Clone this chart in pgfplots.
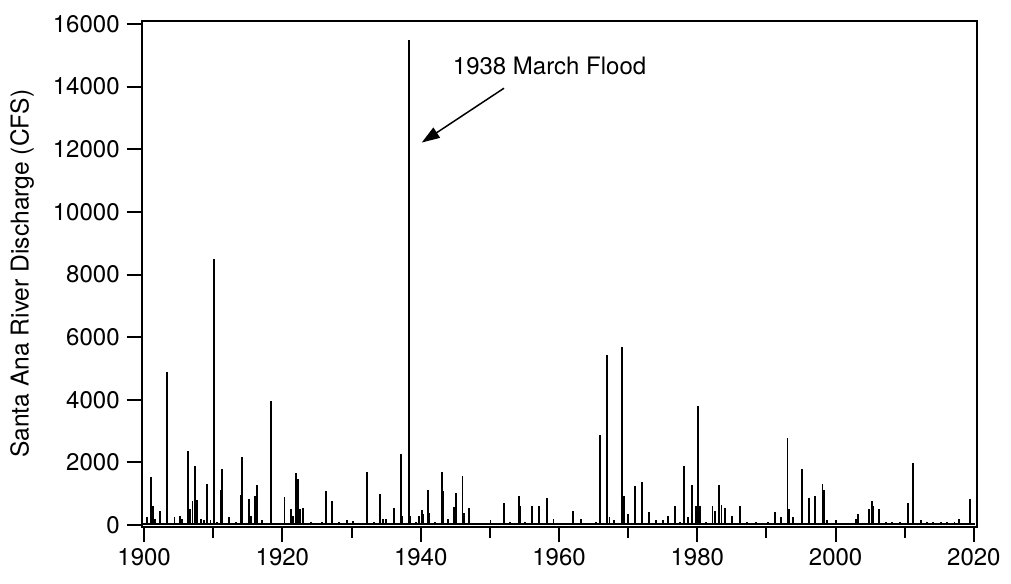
\documentclass[border=0pt]{standalone}
\usepackage{fontspec}
\setmainfont{TeX Gyre Heros}
\usepackage{pgfplots}
\pgfplotsset{compat=1.18}
\usetikzlibrary{calc,arrows.meta}

% peak discharge per event (year, cfs)
\pgfplotstableread{
year   q
1900.4 250
1901.0 1540
1901.3 600
1901.6 180
1902.3 440
1903.3 4890
1904.4 250
1905.2 300
1905.5 200
1906.3 2380
1906.6 500
1907.0 760
1907.3 1880
1907.6 800
1908.2 200
1908.6 150
1909.15 1320
1909.6 150
1910.07 8500
1910.5 100
1911.1 1110
1911.3 1800
1912.3 250
1913.3 100
1914.0 975
1914.2 2170
1915.2 840
1915.4 300
1916.1 920
1916.3 1270
1917.0 150
1918.3 3950
1920.3 910
1921.25 500
1921.5 300
1922.0 1670
1922.2 1480
1922.5 500
1923.0 560
1924.2 100
1925.1 80
1925.7 100
1926.35 1090
1927.2 760
1928.2 100
1929.3 160
1930.2 130
1931.2 80
1932.2 1710
1933.2 100
1934.1 1000
1934.6 200
1935.0 200
1936.2 560
1937.1 2270
1937.3 300
1938.3 15500
1938.5 300
1939.3 100
1939.8 300
1940.15 475
1940.4 350
1941.0 1125
1941.2 400
1942.1 100
1943.1 1710
1943.25 1100
1944.0 200
1944.85 580
1945.1 1030
1946.05 1570
1946.25 400
1947.0 530
1948.1 50
1949.0 50
1950.1 160
1952.05 720
1952.9 100
1954.2 940
1954.3 600
1955.1 100
1956.1 600
1957.1 620
1958.3 860
1959.2 200
1960.1 50
1962.05 440
1963.2 180
1965.4 100
1965.9 2870
1966.97 5440
1967.3 250
1968.0 150
1969.15 5690
1969.4 920
1970.0 350
1970.93 1240
1972.0 1390
1973.05 410
1974.0 150
1975.0 150
1975.7 300
1976.75 600
1977.5 100
1978.1 1900
1978.6 250
1979.25 1270
1979.75 600
1980.15 3815
1980.4 600
1981.2 100
1982.2 625
1982.6 440
1983.17 1270
1983.5 650
1984.0 550
1985.0 300
1986.2 625
1987.2 100
1988.5 100
1989.5 80
1990.2 100
1991.2 420
1992.1 250
1993.05 2780
1993.3 500
1993.9 250
1995.17 1800
1996.1 880
1997.05 920
1998.1 1310
1998.3 1120
1998.7 150
2000.1 150
2003.0 200
2003.2 360
2004.8 500
2005.2 760
2005.4 600
2006.25 500
2007.3 100
2008.2 100
2009.3 100
2010.5 690
2011.2 1990
2012.3 150
2013.2 100
2014.1 100
2015.2 100
2016.1 100
2017.2 100
2017.8 200
2019.4 820
}\peaks

\begin{document}
\begin{tikzpicture}
\begin{axis}[
  scale only axis, width=417.7pt, height=253pt,
  xmin=1899.65, xmax=2020.45, ymin=-50, ymax=16105,
  xtick={1900,1920,...,2020}, minor xtick={1910,1930,...,2010},
  ytick={0,2000,...,16000},
  xtick pos=left, ytick pos=left, tick align=outside,
  major tick length=7.5pt, minor tick length=5.5pt,
  every tick/.style={black, line width=1pt},
  axis line style={line width=1pt},
  tick label style={font=\fontsize{12}{14}\selectfont},
  /pgf/number format/assume math mode=true,
  /pgf/number format/1000 sep={},
  scaled y ticks=false,
  ylabel={Santa Ana River Discharge (CFS)},
  ylabel style={font=\fontsize{12.3}{14}\selectfont,
    at={(axis description cs:-0.1205,0.5)}, anchor=south},
]
\addplot[black, line width=0.9pt] coordinates {(1899.9,25) (2020.2,25)};
\addplot[ycomb, black, line width=0.95pt, no marks] table[x=year, y=q] {\peaks};
\node[font=\fontsize{12}{14}\selectfont, anchor=base west, inner sep=0pt]
  at (axis cs:1944.6,14396) {1938 March Flood};
\draw[-{Triangle[length=9pt,width=6pt]}, line width=0.75pt]
  (axis cs:1952.05,13950) -- (axis cs:1940.15,12214);
\coordinate (sw) at (rel axis cs:0,0);
\coordinate (ne) at (rel axis cs:1,1);
\end{axis}
\pgfresetboundingbox
\path[use as bounding box] ($(sw)+(-70.85pt,-28.65pt)$) rectangle ($(ne)+(17pt,10.35pt)$);
\end{tikzpicture}
\end{document}
